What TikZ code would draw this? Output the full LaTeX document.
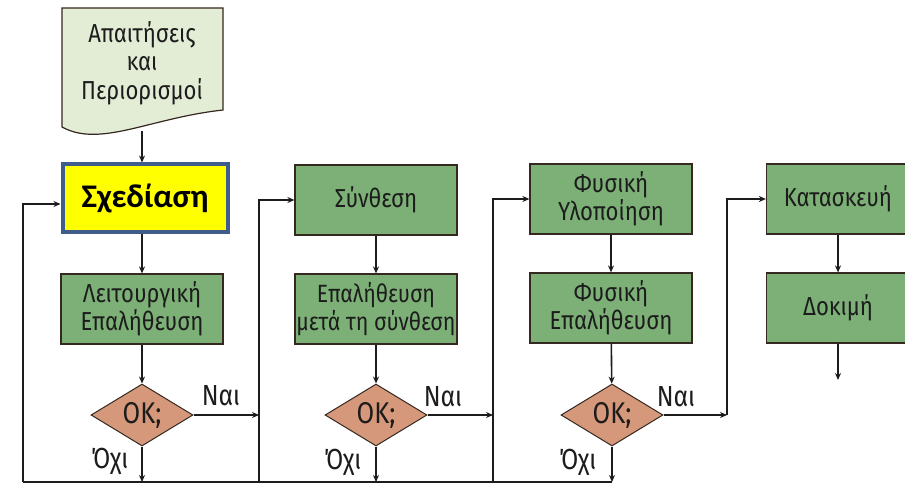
\documentclass[tikz,border=0pt]{standalone}
\usepackage{fontspec}
\setmainfont{Fira Sans}[FakeStretch=0.85]
\newfontfamily\titlefont{Carlito}
\usetikzlibrary{arrows.meta,shapes.geometric}

\definecolor{boxgreen}{RGB}{124,176,118}
\definecolor{edge}{RGB}{52,40,32}
\definecolor{docfill}{RGB}{227,237,213}
\definecolor{decfill}{RGB}{214,152,122}
\definecolor{hlyellow}{RGB}{255,255,0}
\definecolor{hlblue}{RGB}{62,92,140}
\definecolor{ink}{RGB}{28,28,28}

\begin{document}
\begin{tikzpicture}[x=1pt,y=-1pt,
  font=\fontsize{26}{27.5}\selectfont,
  stage/.style={draw=edge, line width=1.2pt, fill=boxgreen, text=ink,
    minimum width=162pt, minimum height=70pt, align=center, inner sep=0pt},
  design/.style={draw=hlblue, line width=4pt, fill=hlyellow, text=black,
    minimum width=165pt, minimum height=67pt, inner sep=0pt,
    font=\titlefont\bfseries\fontsize{33}{33}\selectfont},
  decision/.style={diamond, draw=edge, line width=1pt, fill=decfill, text=ink,
    minimum width=102pt, minimum height=62pt, inner sep=0pt, aspect=1.6,
    font=\fontsize{30}{30}\selectfont},
  docshape/.style={draw=edge, line width=1.2pt, fill=docfill},
  lbl/.style={text=ink, inner sep=0pt, font=\fontsize{29}{29}\selectfont},
  arr/.style={draw=ink, line width=1.6pt, -{Stealth[length=7pt,width=6pt]}},
  wire/.style={draw=ink, line width=1.6pt}
]
\clip (0,0) rectangle (905,484);
\fill[white] (0,0) rectangle (905,484);

% input document with wavy lower edge
\draw[docshape] (62,8) -- (223,8) -- (223,110)
  .. controls (150,118) and (100,148) .. (62,127) -- cycle;
\node[text=ink, align=center, inner sep=0pt, font=\fontsize{26}{28.5}\selectfont]
  (req) at (142,63) {Απαιτήσεις\\και\\Περιορισμοί};
\coordinate (reqout) at (142,131);

% process stages
\node[design] (sxe) at (145,198) {Σχεδίαση};
\node[stage] (lep) at (142,309) {Λειτουργική\\Επαλήθευση};
\node[stage] (syn) at (376,200) {Σύνθεση};
\node[stage, font=\fontsize{25}{27.5}\selectfont] (ver) at (376,309)
  {Επαλήθευση\\μετά τη σύνθεση};
\node[stage] (fyl) at (611,199) {Φυσική\\Υλοποίηση};
\node[stage] (fep) at (611,308) {Φυσική\\Επαλήθευση};
\node[stage, minimum width=143pt] (kat) at (838,199) {Κατασκευή};
\node[stage, minimum width=143pt] (dok) at (838,308) {Δοκιμή};

% checks
\node[decision] (d1) at (142,415) {ΟΚ;};
\node[decision] (d2) at (376,415) {ΟΚ;};
\node[decision] (d3) at (612,415) {ΟΚ;};

% labels
\node[lbl] (y1) at (221,396) {Ναι};
\node[lbl] (y2) at (443,397) {Ναι};
\node[lbl] (y3) at (676,397) {Ναι};
\node[lbl] (n1) at (110,461) {Όχι};
\node[lbl] (n2) at (343,462) {Όχι};
\node[lbl] (n3) at (578,462) {Όχι};

% routing points
\coordinate (bl) at (23,482);
\coordinate (br) at (612,482);
\coordinate (j1) at (259,415);
\coordinate (b1) at (259,482);
\coordinate (j2) at (493,415);
\coordinate (b2) at (493,482);
\coordinate (j3) at (727,415);
\coordinate (fin) at (838,380);

% main flow
\draw[arr] (reqout) -- (reqout |- sxe.north);
\draw[arr] (lep.north |- sxe.south) -- (lep.north);
\draw[arr] (lep) -- (d1);
\draw[arr] (syn) -- (ver);
\draw[arr] (ver) -- (d2);
\draw[arr] (fyl) -- (fep);
\draw[arr] (fep) -- (d3);
\draw[arr] (kat) -- (dok);
\draw[arr] (dok) -- (fin);

% accepted results move on
\draw[arr] (d1.east) -- (j1);
\draw[arr] (d2.east) -- (j2);
\draw[arr] (d3.east) -- (j3);
\draw[arr] (b1) |- (syn.west);
\draw[arr] (b2) |- (fyl.west);
\draw[arr] (j3) |- (kat.west);

% rejected results return to the design step
\draw[arr] (d1.south) -- (d1.south |- bl);
\draw[arr] (d2.south) -- (d2.south |- bl);
\draw[arr] (d3.south) -- (br);
\draw[wire] (br) -- (bl);
\draw[arr] (bl) |- ([yshift=-6pt]sxe.west);
\end{tikzpicture}
\end{document}
